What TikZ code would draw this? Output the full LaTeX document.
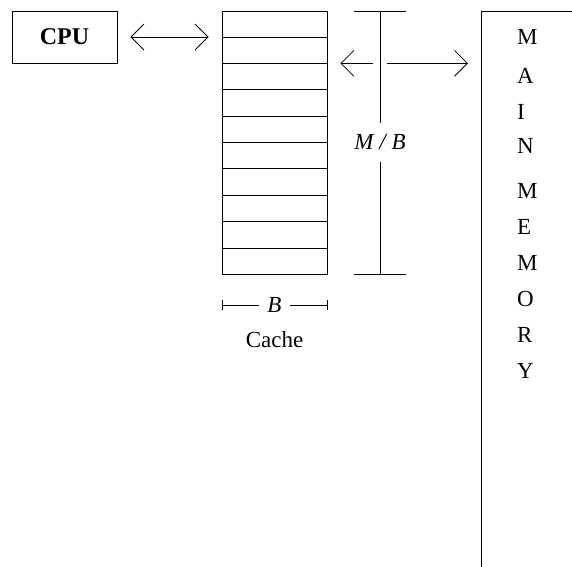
\documentclass[tikz,border=0pt]{standalone}
\usepackage{fontspec}
\setmainfont{Liberation Serif}
\usepackage{tikz}
\usetikzlibrary{
  arrows.meta,
  positioning,
  calc
}
\tikzset{
  box/.style={draw,line width=0.8pt,inner sep=0pt},
  link/.style={line width=0.8pt,
    {Straight Barb[length=13pt,width=26pt]}-{Straight Barb[length=13pt,width=26pt]},
    shorten <=13pt,shorten >=13pt},
  dimline/.style={line width=0.8pt},
  memletter/.style={anchor=base west,inner sep=0pt}
}

\begin{document}
\begin{tikzpicture}[x=1pt,y=-1pt,font=\fontsize{23}{27}\selectfont]

  \clip (0,0) rectangle (572,566);

  % processor and cache
  \node[box,minimum width=105pt,minimum height=52pt,font=\fontsize{24}{28}\selectfont\bfseries] (cpu) at (64.5,37) {CPU};
  \node[box,minimum width=105pt,minimum height=263pt] (cache) at (274.5,142.5) {};
  \foreach \i in {1,...,9}
    \draw[dimline] ($(cache.north west)!\i/10!(cache.south west)$) -- ($(cache.north east)!\i/10!(cache.south east)$);

  % main memory, cut off by the page
  \node[box,anchor=north west,minimum width=200pt,minimum height=600pt] (mem) at (481,11) {};
  \foreach \ch/\y [count=\k] in {M/44,A/83,I/119,N/153,M/198,E/234,M/270,O/306,R/342,Y/378}
    \node[memletter] (letter\k) at (517,\y) {\ch};

  % transfers
  \draw[link] (cpu.east) -- (cpu.east -| cache.west);
  \coordinate (rowtwo) at ($(cache.north east)!0.2!(cache.south east)$);
  \draw[link] (rowtwo) -- (rowtwo -| mem.west);

  % M/B dimension
  \coordinate (mbtop) at (380,11);
  \coordinate (mbbot) at (380,274);
  \draw[dimline,preaction={draw=white,line width=14pt}] (mbtop) -- (mbbot);
  \node[fill=white,inner xsep=2pt,inner ysep=12pt] (mblabel) at ($(mbtop)!0.5!(mbbot)$) {\textit{M / B}};
  \draw[dimline] ([xshift=-26pt]mbtop) -- ([xshift=26pt]mbtop);
  \draw[dimline] ([xshift=-26pt]mbbot) -- ([xshift=26pt]mbbot);

  % B dimension
  \coordinate (bleft) at ($(cache.south west)+(0,31)$);
  \coordinate (bright) at ($(cache.south east)+(0,31)$);
  \draw[dimline,{Bar[width=10pt]}-{Bar[width=10pt]}] (bleft) -- node[fill=white,inner xsep=8pt] (blabel) {\textit{B}} (bright);
  \node[below=11pt of blabel] (cachelabel) {Cache};

\end{tikzpicture}
\end{document}
